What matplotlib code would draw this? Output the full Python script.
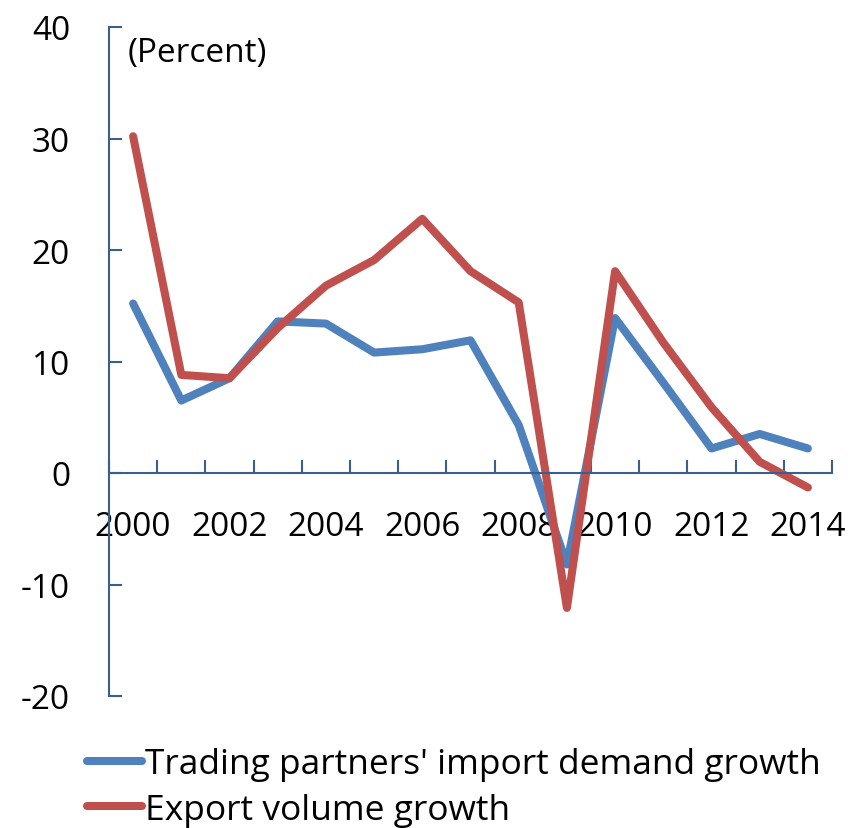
import matplotlib
matplotlib.use('Agg')
import matplotlib.pyplot as plt

years = list(range(2000, 2015))
import_demand = [15.2, 6.5, 8.5, 13.6, 13.4, 10.8, 11.1, 11.9, 4.3, -8.2, 13.9, 8.1, 2.2, 3.5, 2.2]
export_volume = [30.2, 8.8, 8.5, 13.0, 16.8, 19.1, 22.8, 18.1, 15.3, -12.1, 18.1, 11.7, 5.9, 1.0, -1.3]
year_labels = [str(y) for y in years[::2]]

plt.rcParams['font.family'] = ['Open Sans', 'DejaVu Sans']
plt.rcParams['font.size'] = 24
plt.rcParams['axes.unicode_minus'] = False

axis_col = '#3a5f8f'

fig = plt.figure(figsize=(8.52, 8.29), dpi=100)
ax = fig.add_axes([109/852, 1 - 697/829, (832 - 109)/852, (697 - 28)/829])

ax.plot(years, import_demand, color='#4f81bd', lw=5.8, solid_capstyle='round',
        solid_joinstyle='round', label="Trading partners' import demand growth")
ax.plot(years, export_volume, color='#c0504d', lw=5.8, solid_capstyle='round',
        solid_joinstyle='round', label='Export volume growth')

ax.set_xlim(1999.5, 2014.5)
ax.set_ylim(-20, 40)
ax.set_yticks(range(-20, 41, 10))

# category boundaries as ticks, labels every other year
ax.set_xticks([y + 0.5 for y in range(1999, 2015)], minor=False)
ax.set_xticklabels([])
ax.set_xticks(years[::2], minor=True)
ax.set_xticklabels(year_labels, minor=True)

for s in ['top', 'right']:
    ax.spines[s].set_visible(False)
ax.spines['bottom'].set_position(('data', 0))
for s in ['left', 'bottom']:
    ax.spines[s].set_color(axis_col)
    ax.spines[s].set_linewidth(1.5)

ax.tick_params(axis='y', direction='in', length=9.5, width=1.5, color=axis_col, pad=28)
ax.tick_params(axis='x', which='major', direction='in', length=9.5, width=1.5, color=axis_col)
ax.tick_params(axis='x', which='minor', length=0, pad=27)

ax.text(1999.88, 39.2, '(Percent)', ha='left', va='top')

fig.legend(loc='upper left', bbox_to_anchor=(87/852, 1 - 748/829), frameon=False,
           fontsize=25.5, handlelength=1.55, handletextpad=0.08, labelspacing=0.33,
           borderaxespad=0, borderpad=0)

fig.savefig('out.png', dpi=100)
